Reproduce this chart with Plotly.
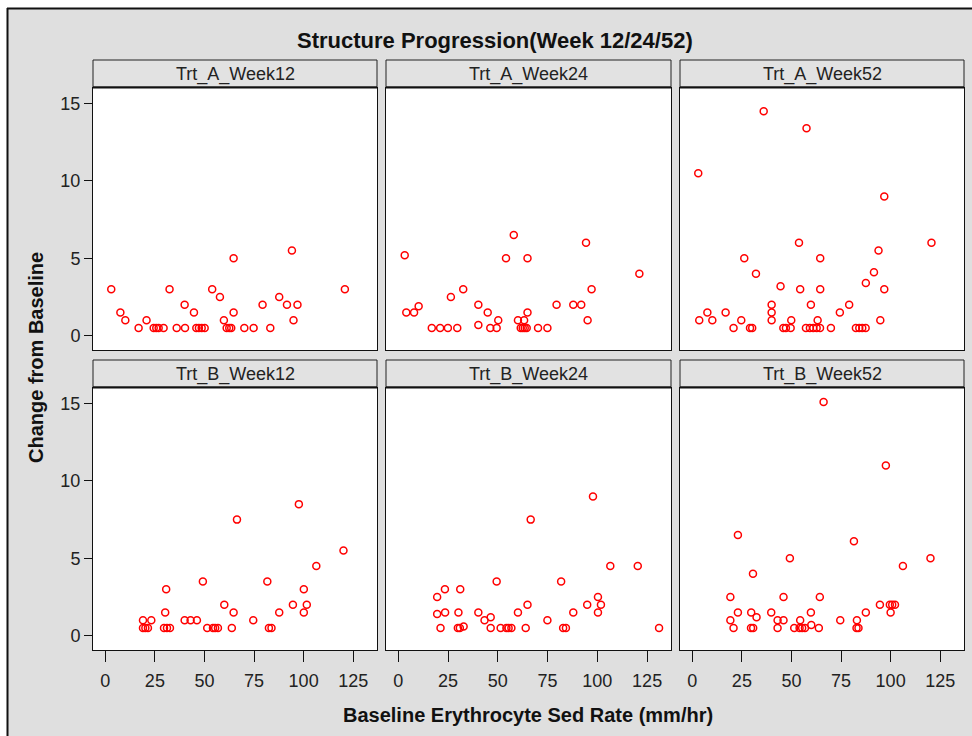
import plotly.graph_objects as go

# ---------------- data ----------------
panel_titles = ["Trt_A_Week12", "Trt_A_Week24", "Trt_A_Week52",
                "Trt_B_Week12", "Trt_B_Week24", "Trt_B_Week52"]

a_w12_x = [3.0, 7.6, 10.1, 16.8, 20.8, 24.4, 25.7, 26.9, 29.4, 32.4, 36.0, 40.0, 40.2, 44.7,
           45.9, 47.2, 48.6, 50.1, 53.9, 57.8, 59.8, 64.7, 64.7, 61.2, 62.5, 63.5, 70.1, 74.8,
           79.3, 83.2, 87.7, 91.6, 94.1, 94.9, 96.9, 120.8]
a_w12_y = [3, 1.5, 1, 0.5, 1, 0.5, 0.5, 0.5, 0.5, 3, 0.5, 2, 0.5, 1.5,
           0.5, 0.5, 0.5, 0.5, 3, 2.5, 1, 5, 1.5, 0.5, 0.5, 0.5, 0.5, 0.5,
           2, 0.5, 2.5, 2, 5.5, 1, 2, 3]

a_w24_x = [3.2, 4.0, 7.9, 10.2, 16.8, 21.0, 24.9, 29.6, 26.4, 32.6, 40.2, 40.2, 44.9, 46.2,
           49.4, 50.2, 54.1, 58.0, 60.1, 63.2, 64.9, 64.9, 61.5, 62.5, 63.5, 64.5, 70.2, 74.9,
           79.5, 87.9, 91.9, 94.3, 95.1, 97.1, 121.1]
a_w24_y = [5.2, 1.5, 1.5, 1.9, 0.5, 0.5, 0.5, 0.5, 2.5, 3, 2, 0.7, 1.5, 0.5,
           0.5, 1, 5, 6.5, 1, 1, 1.5, 5, 0.5, 0.5, 0.5, 0.5, 0.5, 0.5,
           2, 2, 2, 6, 1, 3, 4]

a_w52_x = [36.0, 57.6, 3.0, 96.8, 53.8, 120.6, 93.9, 26.2, 64.5, 91.6, 32.1, 87.5, 44.5, 54.4,
           64.5, 96.8, 40.0, 59.8, 79.1, 7.6, 16.8, 40.0, 74.4, 3.5, 10.1, 24.7, 40.0, 49.9,
           63.2, 94.8, 20.8, 29.1, 30.2, 45.9, 47.2, 49.6, 57.3, 59.3, 61.0, 62.7, 64.4, 69.9,
           82.5, 84.2, 85.7, 87.4]
a_w52_y = [14.5, 13.4, 10.5, 9.0, 6, 6, 5.5, 5, 5, 4.1, 4, 3.4, 3.2, 3,
           3, 3, 2, 2, 2, 1.5, 1.5, 1.5, 1.5, 1, 1, 1, 1, 1,
           1, 1, 0.5, 0.5, 0.5, 0.5, 0.5, 0.5, 0.5, 0.5, 0.5, 0.5, 0.5, 0.5,
           0.5, 0.5, 0.5, 0.5]

b_w12_x = [19.0, 23.2, 19.0, 20.2, 21.5, 30.7, 30.2, 29.6, 31.1, 32.6, 40.0, 43.0, 46.2, 49.2,
           51.4, 54.3, 55.4, 56.8, 60.0, 66.4, 64.7, 63.8, 74.6, 81.7, 82.5, 83.8, 87.7, 94.6,
           97.6, 100.1, 100.1, 101.6, 106.4, 120.1]
b_w12_y = [1, 1, 0.5, 0.5, 0.5, 3, 1.5, 0.5, 0.5, 0.5, 1, 1, 1, 3.5,
           0.5, 0.5, 0.5, 0.5, 2, 7.5, 1.5, 0.5, 1, 3.5, 0.5, 0.5, 1.5, 2,
           8.5, 3, 1.5, 2, 4.5, 5.5]

b_w24_x = [19.5, 19.5, 21.2, 23.4, 23.5, 31.1, 30.2, 29.9, 30.9, 32.8, 40.2, 43.3, 46.4, 46.4,
           49.4, 51.4, 54.3, 55.4, 56.8, 60.1, 64.9, 66.5, 64.0, 74.9, 81.8, 82.8, 84.2, 87.9,
           94.9, 97.8, 100.3, 101.8, 100.3, 106.5, 120.3, 131.0]
b_w24_y = [2.5, 1.4, 0.5, 3, 1.5, 3, 1.5, 0.5, 0.5, 0.6, 1.5, 1, 1.2, 0.5,
           3.5, 0.5, 0.5, 0.5, 0.5, 1.5, 2, 7.5, 0.5, 1, 3.5, 0.5, 0.5, 1.5,
           2, 9.0, 2.5, 2, 1.5, 4.5, 4.5, 0.5]

b_w52_x = [66.2, 97.6, 23.0, 81.5, 49.2, 120.1, 106.2, 30.6, 19.2, 46.0, 64.3, 94.6, 99.6, 100.8,
           102.2, 23.0, 29.7, 39.8, 59.8, 87.5, 100.0, 32.4, 19.2, 43.0, 46.0, 54.4, 74.6, 83.0,
           60.0, 20.8, 29.6, 30.7, 43.0, 51.4, 54.1, 55.4, 56.8, 63.8, 82.8, 83.8]
b_w52_y = [15.1, 11, 6.5, 6.1, 5, 5, 4.5, 4, 2.5, 2.5, 2.5, 2, 2, 2,
           2, 1.5, 1.5, 1.5, 1.5, 1.5, 1.5, 1.2, 1, 1, 1, 1, 1, 1,
           0.7, 0.5, 0.5, 0.5, 0.5, 0.5, 0.5, 0.5, 0.5, 0.5, 0.5, 0.5]

x_ticks = [0, 25, 50, 75, 100, 125]
y_ticks = [0, 5, 10, 15]

panel_x = [a_w12_x, a_w24_x, a_w52_x, b_w12_x, b_w24_x, b_w52_x]
panel_y = [a_w12_y, a_w24_y, a_w52_y, b_w12_y, b_w24_y, b_w52_y]

# ---------------- layout helpers ----------------
W, H = 972, 736
def px(x):
    return x / W
def py(y):
    return 1 - y / H

col_px = [(93, 377), (386, 671), (680, 964)]
row_px = [(88, 350), (388, 650)]          # plot areas (top, bottom) in pixels
strip_px = [(60, 87), (360, 387)]

BG = "#dfdfdf"
FONT = "Liberation Sans, Arial, sans-serif"
TXT = "#222222"

fig = go.Figure()
layout = dict(
    width=W, height=H,
    margin=dict(l=0, r=0, t=0, b=0),
    paper_bgcolor=BG, plot_bgcolor="white",
    showlegend=False,
    font=dict(family=FONT, color=TXT),
)

shapes = []
annotations = []

for i in range(6):
    r, c = divmod(i, 3)
    k = "" if i == 0 else str(i + 1)
    fig.add_trace(go.Scatter(
        x=panel_x[i], y=panel_y[i], mode="markers",
        xaxis="x" + k, yaxis="y" + k,
        marker=dict(symbol="circle-open", size=7, color="#ff0000",
                    line=dict(width=1.5, color="#ff0000")),
        hoverinfo="x+y",
    ))
    xa = dict(
        domain=[px(col_px[c][0]), px(col_px[c][1])],
        anchor="y" + k, range=[-6.2, 137],
        showgrid=False, zeroline=False,
        showline=True, linecolor="#111", linewidth=1, mirror=True,
        tickvals=x_ticks,
        ticks="outside" if r == 1 else "", ticklen=11, tickcolor="#111", tickwidth=1,
        showticklabels=(r == 1), ticklabelstandoff=3,
        tickfont=dict(size=18, color=TXT, family=FONT),
    )
    ya = dict(
        domain=[py(row_px[r][1]), py(row_px[r][0])],
        anchor="x" + k, range=[-0.92, 16],
        showgrid=False, zeroline=False,
        showline=True, linecolor="#111", linewidth=1, mirror=True,
        tickvals=y_ticks,
        ticks="outside" if c == 0 else "", ticklen=8, tickcolor="#111", tickwidth=1,
        showticklabels=(c == 0),
        tickfont=dict(size=18, color=TXT, family=FONT),
    )
    layout["xaxis" + k] = xa
    layout["yaxis" + k] = ya

    # strip header
    x0, x1 = col_px[c]
    s0, s1 = strip_px[r]
    shapes.append(dict(type="rect", xref="paper", yref="paper",
                       x0=px(x0), x1=px(x1), y0=py(s1), y1=py(s0),
                       fillcolor="#e2e2e2", line=dict(color="#222", width=1), layer="above"))
    shapes.append(dict(type="line", xref="paper", yref="paper",
                       x0=px(x0), x1=px(x1), y0=py(s1 + 0.5), y1=py(s1 + 0.5),
                       line=dict(color="#111", width=2), layer="above"))
    annotations.append(dict(text=panel_titles[i], xref="paper", yref="paper",
                            x=px((x0 + x1) / 2), y=py((s0 + s1) / 2 + 0.5),
                            showarrow=False, xanchor="center", yanchor="middle",
                            font=dict(size=18, color=TXT, family=FONT)))

# outer white margin and frame
shapes.append(dict(type="rect", xref="paper", yref="paper", x0=0, x1=1, y0=py(8), y1=1,
                   fillcolor="white", line=dict(width=0), layer="below"))
shapes.append(dict(type="rect", xref="paper", yref="paper", x0=0, x1=px(7), y0=0, y1=1,
                   fillcolor="white", line=dict(width=0), layer="below"))
shapes.append(dict(type="line", xref="paper", yref="paper", x0=px(7), x1=1.01,
                   y0=py(8.5), y1=py(8.5), line=dict(color="#111", width=2)))
shapes.append(dict(type="line", xref="paper", yref="paper", x0=px(7.5), x1=px(7.5),
                   y0=-0.01, y1=py(8), line=dict(color="#111", width=2)))

annotations.append(dict(text="<b>Structure Progression(Week 12/24/52)</b>",
                        xref="paper", yref="paper", x=px(495), y=py(40),
                        showarrow=False, xanchor="center", yanchor="middle",
                        font=dict(size=22, color="#111", family=FONT)))
annotations.append(dict(text="<b>Baseline Erythrocyte Sed Rate (mm/hr)</b>",
                        xref="paper", yref="paper", x=px(528), y=py(715),
                        showarrow=False, xanchor="center", yanchor="middle",
                        font=dict(size=20, color="#111", family=FONT)))
annotations.append(dict(text="<b>Change from Baseline</b>",
                        xref="paper", yref="paper", x=px(36), y=py(358),
                        showarrow=False, xanchor="center", yanchor="middle", textangle=-90,
                        font=dict(size=20, color="#111", family=FONT)))

layout["shapes"] = shapes
layout["annotations"] = annotations
fig.update_layout(**layout)
fig.write_html("out.html")
